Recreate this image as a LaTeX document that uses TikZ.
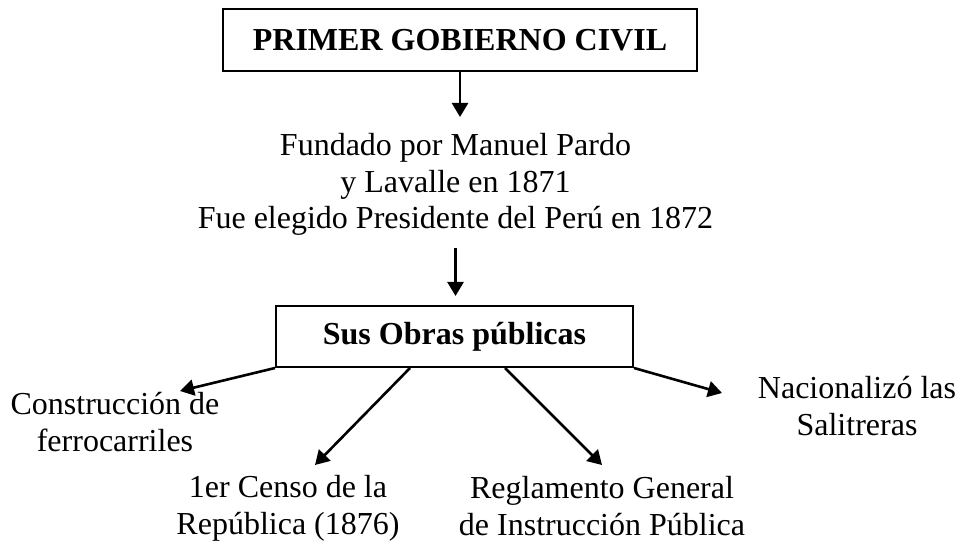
\documentclass[tikz,border=0pt]{standalone}
\usepackage{fontspec}
\setmainfont{Liberation Serif}
\usetikzlibrary{arrows.meta}

\begin{document}
\begin{tikzpicture}[x=0.5pt,y=-0.5pt,
    titlebox/.style={draw,line width=1pt,inner sep=0pt,font=\fontsize{16}{18.25}\selectfont\bfseries},
    note/.style={anchor=north,align=center,inner sep=0pt,font=\fontsize{16}{18.25}\selectfont},
    arr/.style={line width=1.3pt,-{Triangle[length=7pt,width=8pt]}}]
  \useasboundingbox (0,0) rectangle (957,544);

  \node[titlebox,minimum width=237pt,minimum height=30.75pt] (gobierno) at (460,40) {PRIMER GOBIERNO CIVIL};
  \node[note] (pardo) at (455.5,133) {Fundado por Manuel Pardo\\y Lavalle en 1871\\Fue elegido Presidente del Perú en 1872};
  \node[titlebox,minimum width=178.5pt,minimum height=30.5pt] (obras) at (454.5,336.5) {Sus Obras públicas};

  % las obras
  \node[note] (ferro) at (115,392) {Construcción de\\ferrocarriles};
  \node[note] (censo) at (288,475) {1er Censo de la\\República (1876)};
  \node[note] (instruc) at (602,476) {Reglamento General\\de Instrucción Pública};
  \node[note] (salitre) at (857,376) {Nacionalizó las\\Salitreras};

  \draw[arr,shorten >=8pt] (gobierno.south) -- (gobierno.south |- pardo.north);
  \draw[arr,shorten <=6pt,shorten >=4.5pt] (pardo.south) -- (pardo.south |- obras.north);

  \draw[arr] (obras.south west) -- ([xshift=32.5pt,yshift=0.5pt]ferro.north);
  \draw[arr] ([xshift=-22.25pt]obras.south) -- ([xshift=13.5pt,yshift=5pt]censo.north);
  \draw[arr] ([xshift=25.25pt]obras.south) -- ([yshift=5.5pt]instruc.north);
  \draw[arr] (obras.south east) -- ([xshift=-67.5pt,yshift=-8.5pt]salitre.north);
\end{tikzpicture}
\end{document}
